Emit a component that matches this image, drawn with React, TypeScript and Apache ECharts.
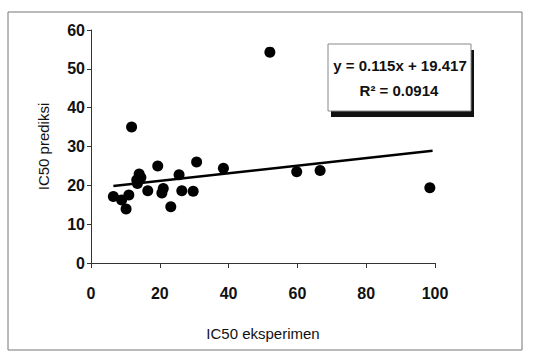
import React, { useEffect, useRef } from "react";
import * as echarts from "echarts";

const xValues = [6.5, 8.9, 10.2, 11.0, 11.8, 13.3, 13.5, 14.0, 14.5, 16.5, 19.4, 20.6, 21.0, 23.2, 25.6, 26.4, 29.7, 30.7, 38.5, 52.0, 59.8, 66.6, 98.5];
const yValues = [17.1, 16.2, 13.9, 17.5, 35.0, 21.4, 20.5, 22.9, 22.0, 18.6, 25.0, 18.0, 19.2, 14.5, 22.7, 18.6, 18.5, 26.0, 24.4, 54.3, 23.5, 23.8, 19.4];
const trendX = [6.5, 99.3];
const trendY = [19.8, 28.9];
const equationText = "y = 0.115x + 19.417";
const r2Text = "R² = 0.0914";
const xTitle = "IC50 eksperimen";
const yTitle = "IC50 prediksi";

const FONT = "'Liberation Sans', Arial, sans-serif";

export default function App() {
  const ref = useRef<HTMLDivElement>(null);
  useEffect(() => {
    document.body.style.margin = "0";
    if (!ref.current) return;
    const chart = echarts.init(ref.current, undefined, { renderer: "svg" });
    const points = xValues.map((x, i) => [x, yValues[i]]);
    const trend = trendX.map((x, i) => [x, trendY[i]]);
    chart.setOption({
      animation: false,
      backgroundColor: "#ffffff",
      grid: { left: 91, right: 98, top: 30, bottom: 94 },
      xAxis: {
        type: "value",
        min: 0,
        max: 100,
        interval: 20,
        name: xTitle,
        nameLocation: "middle",
        nameGap: 63,
        nameTextStyle: { fontFamily: FONT, fontSize: 15, color: "#111" },
        axisLine: { lineStyle: { color: "#333", width: 1 } },
        axisTick: { show: true, length: 5, lineStyle: { color: "#333" } },
        axisLabel: { fontFamily: FONT, fontSize: 16, fontWeight: "bold", color: "#111", margin: 22 },
        splitLine: { show: false },
      },
      yAxis: {
        type: "value",
        min: 0,
        max: 60,
        interval: 10,
        name: yTitle,
        nameLocation: "middle",
        nameGap: 40,
        nameTextStyle: { fontFamily: FONT, fontSize: 15, color: "#111" },
        axisLine: { show: true, lineStyle: { color: "#333", width: 1 } },
        axisTick: { show: true, length: 4, lineStyle: { color: "#333" } },
        axisLabel: { fontFamily: FONT, fontSize: 16, fontWeight: "bold", color: "#111", margin: 6 },
        splitLine: { show: false },
      },
      series: [
        {
          type: "scatter",
          data: points,
          symbol: "circle",
          symbolSize: 11,
          itemStyle: { color: "#000", opacity: 1 },
        },
        {
          type: "line",
          data: trend,
          symbol: "none",
          lineStyle: { color: "#000", width: 2.5 },
        },
      ],
      graphic: [
        {
          type: "rect",
          shape: { x: 8, y: 12, width: 514, height: 338 },
          style: { fill: "none", stroke: "#777", lineWidth: 1 },
          z: 0,
        },
        {
          type: "rect",
          shape: { x: 331, y: 50, width: 143, height: 67 },
          style: { fill: "#111" },
          z: 10,
        },
        {
          type: "rect",
          shape: { x: 328, y: 44, width: 143, height: 67 },
          style: { fill: "#fff", stroke: "#888", lineWidth: 1 },
          z: 11,
        },
        {
          type: "text",
          x: 400,
          y: 65,
          style: {
            text: equationText,
            fontFamily: FONT,
            fontSize: 15,
            fontWeight: "bold",
            fill: "#111",
            align: "center",
            verticalAlign: "middle",
          },
          z: 12,
        },
        {
          type: "text",
          x: 399,
          y: 90,
          style: {
            text: r2Text,
            fontFamily: FONT,
            fontSize: 15,
            fontWeight: "bold",
            fill: "#111",
            align: "center",
            verticalAlign: "middle",
          },
          z: 12,
        },
      ],
    });
    return () => chart.dispose();
  }, []);
  return <div ref={ref} style={{ width: 533, height: 357 }} />;
}
